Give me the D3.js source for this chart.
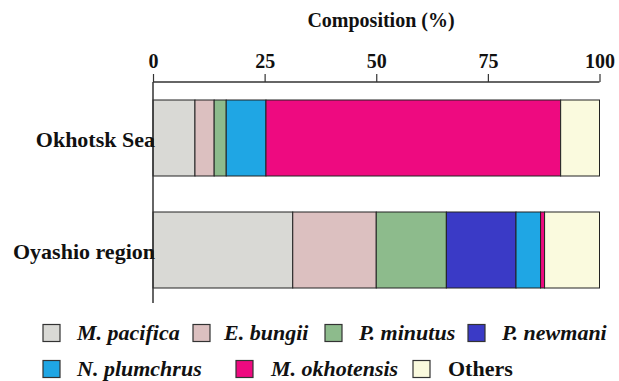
<!DOCTYPE html>
<html><head><meta charset="utf-8">
<script src="https://cdn.jsdelivr.net/npm/d3@7"></script>
<style>body{margin:0;background:#fff}svg{display:block}</style>
</head><body>
<script>
const regions = ["Okhotsk Sea", "Oyashio region"];
const species = ["M. pacifica", "E. bungii", "P. minutus", "P. newmani", "N. plumchrus", "M. okhotensis", "Others"];
const okhotsk = [9.4, 4.3, 2.7, 0, 8.9, 66.0, 8.7];
const oyashio = [31.3, 18.7, 15.7, 15.6, 5.5, 0.9, 12.3];
const colors = ["#d9d9d5", "#dcc0c0", "#8dbb8c", "#3a3ac6", "#1fa6e4", "#ee0a80", "#fafade"];
const tickValues = [0, 25, 50, 75, 100];
const italicFlags = [true, true, true, true, true, true, false];

const FONT = "'Liberation Serif', 'DejaVu Serif', serif";
const W = 619, H = 381;
const svg = d3.select("body").append("svg").attr("width", W).attr("height", H);
const x = d3.scaleLinear().domain([0, 100]).range([153, 599.5]);
const y = d3.scaleBand().domain(regions).range([100, 288]).paddingInner(36 / 112).paddingOuter(0);

const values = {"Okhotsk Sea": okhotsk, "Oyashio region": oyashio};

regions.forEach(r => {
  let cum = 0;
  const segs = values[r].map((v, i) => { const s = {x0: cum, x1: cum + v, i}; cum += v; return s; });
  svg.append("g").selectAll("rect").data(segs.filter(s => s.x1 > s.x0)).join("rect")
    .attr("x", d => x(d.x0)).attr("width", d => x(d.x1) - x(d.x0))
    .attr("y", y(r)).attr("height", y.bandwidth())
    .attr("fill", d => colors[d.i]).attr("stroke", "#222").attr("stroke-width", 1);
});

const ax = svg.append("g").attr("transform", "translate(0,82)")
  .call(d3.axisTop(x).tickValues(tickValues).tickSize(8).tickPadding(6));
ax.attr("font-family", FONT).attr("font-size", 20).attr("font-weight", "bold");
ax.select(".domain").attr("stroke", "#333").attr("stroke-width", 1.5).attr("d", `M${x(0)},0H${x(100)}`);
ax.selectAll(".tick line").attr("stroke", "#333").attr("stroke-width", 1.2);
ax.selectAll(".tick text").attr("fill", "#111");

svg.append("line").attr("x1", x(0)).attr("x2", x(0)).attr("y1", 82).attr("y2", 303)
  .attr("stroke", "#333").attr("stroke-width", 1.5);

svg.append("text").attr("x", 381).attr("y", 27).attr("text-anchor", "middle")
  .attr("font-family", FONT).attr("font-weight", "bold").attr("font-size", 20).attr("fill", "#111")
  .text("Composition (%)");

svg.selectAll(".rl").data(regions).join("text").attr("class", "rl")
  .attr("x", 155).attr("y", d => y(d) + y.bandwidth() / 2 + 9)
  .attr("text-anchor", "end").attr("font-family", FONT).attr("font-weight", "bold").attr("font-size", 22).attr("fill", "#111")
  .text(d => d);

const swatchX = [43, 193, 325, 468, 43, 236, 413];
const textX = [77, 224, 359, 502, 77, 271, 448];
const rowY = [333, 333, 333, 333, 369, 369, 369];
const lg = svg.append("g").selectAll("g").data(species).join("g")
  .attr("transform", (d, i) => `translate(0,${rowY[i]})`);
lg.append("rect").attr("x", (d, i) => swatchX[i]).attr("y", -8.5).attr("width", 17).attr("height", 17)
  .attr("fill", (d, i) => colors[i]).attr("stroke", "#333").attr("stroke-width", 1.2);
lg.append("text").attr("x", (d, i) => textX[i]).attr("y", 7)
  .attr("font-family", FONT).attr("font-weight", "bold").attr("font-size", 22).attr("fill", "#111")
  .attr("font-style", (d, i) => italicFlags[i] ? "italic" : "normal").text(d => d);
</script>
</body></html>
